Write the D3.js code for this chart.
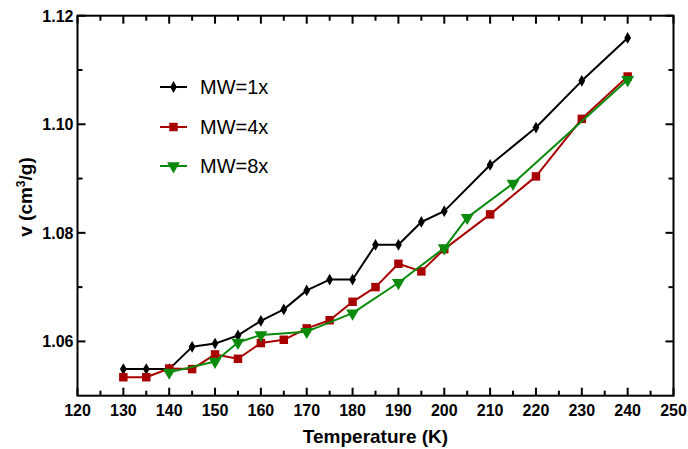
<!DOCTYPE html>
<html>
<head>
<meta charset="utf-8">
<script src="https://cdn.jsdelivr.net/npm/d3@7"></script>
<style>
  html, body { margin: 0; padding: 0; background: #fff; }
  svg { display: block; font-family: "Liberation Sans", Arial, sans-serif; }
</style>
</head>
<body>
<svg id="chart" width="688" height="449"></svg>
<script>
// Specific volume vs temperature for three MW multiples
const temps1 = [130, 135, 140, 145, 150, 155, 160, 165, 170, 175, 180, 185, 190, 195, 200, 210, 220, 230, 240];
const vol1   = [1.0549, 1.0549, 1.0549, 1.0590, 1.0596, 1.0611, 1.0638, 1.0659, 1.0694, 1.0714, 1.0714, 1.0778, 1.0778, 1.0820, 1.0840, 1.0925, 1.0994, 1.1080, 1.1159];

const temps4 = [130, 135, 140, 145, 150, 155, 160, 165, 170, 175, 180, 185, 190, 195, 200, 210, 220, 230, 240];
const vol4   = [1.0534, 1.0534, 1.0550, 1.0549, 1.0576, 1.0568, 1.0597, 1.0603, 1.0624, 1.0639, 1.0673, 1.0700, 1.0743, 1.0729, 1.0770, 1.0834, 1.0904, 1.1010, 1.1088];

const temps8 = [140, 150, 155, 160, 170, 180, 190, 200, 205, 215, 240];
const vol8   = [1.0543, 1.0563, 1.0598, 1.0612, 1.0618, 1.0652, 1.0708, 1.0772, 1.0828, 1.0891, 1.1082];

const seriesNames = ["MW=1x", "MW=4x", "MW=8x"];
const xTicks = [120, 130, 140, 150, 160, 170, 180, 190, 200, 210, 220, 230, 240, 250];
const yTicks = [1.06, 1.08, 1.10, 1.12];
const xMinor = [125, 135, 145, 155, 165, 175, 185, 195, 205, 215, 225, 235, 245];
const yMinor = [1.07, 1.09, 1.11];

const svg = d3.select("#chart");
const plotL = 77.5, plotR = 673.5, plotT = 15.7, plotB = 395.7;

const x = d3.scaleLinear().domain([120, 250]).range([plotL, plotR]);
const y = d3.scaleLinear().domain([1.05, 1.12]).range([plotB, plotT]);

const majorLen = 8, minorLen = 5, tickW = 2;
const tickG = svg.append("g").attr("fill", "#000");

// vertical tick marks on bottom and top edges (pointing inward)
function vTicks(vals, len) {
  vals.forEach(v => {
    tickG.append("rect").attr("x", x(v) - tickW / 2).attr("y", plotB - len).attr("width", tickW).attr("height", len);
    tickG.append("rect").attr("x", x(v) - tickW / 2).attr("y", plotT).attr("width", tickW).attr("height", len);
  });
}
// horizontal tick marks on left and right edges (pointing inward)
function hTicks(vals, len) {
  vals.forEach(v => {
    tickG.append("rect").attr("x", plotL).attr("y", y(v) - tickW / 2).attr("width", len).attr("height", tickW);
    tickG.append("rect").attr("x", plotR - len).attr("y", y(v) - tickW / 2).attr("width", len).attr("height", tickW);
  });
}
vTicks(xTicks, majorLen);
vTicks(xMinor, minorLen);
hTicks(yTicks, majorLen);
hTicks(yMinor, minorLen);

// plot frame
svg.append("rect")
  .attr("x", plotL).attr("y", plotT)
  .attr("width", plotR - plotL).attr("height", plotB - plotT)
  .attr("fill", "none").attr("stroke", "#000").attr("stroke-width", 2);

// tick labels
svg.append("g").selectAll("text").data(xTicks).join("text")
  .attr("x", d => x(d)).attr("y", plotB + 20)
  .attr("text-anchor", "middle")
  .attr("font-size", 16).attr("font-weight", "bold")
  .text(d3.format("d"));
svg.append("g").selectAll("text").data(yTicks).join("text")
  .attr("x", plotL - 4).attr("y", d => y(d) + 6)
  .attr("text-anchor", "end")
  .attr("font-size", 16).attr("font-weight", "bold")
  .text(d3.format(".2f"));

// axis titles
svg.append("text")
  .attr("x", (plotL + plotR) / 2)
  .attr("y", 443)
  .attr("text-anchor", "middle")
  .attr("font-size", 19).attr("font-weight", "bold")
  .text("Temperature (K)");

const yTitle = svg.append("text")
  .attr("transform", `translate(32,197) rotate(-90)`)
  .attr("text-anchor", "middle")
  .attr("font-size", 19).attr("font-weight", "bold");
yTitle.append("tspan").text("v (cm");
yTitle.append("tspan").attr("font-size", 12).attr("dy", -7).text("3");
yTitle.append("tspan").attr("dy", 7).text("/g)");

// series
const colors = ["#000000", "#a80000", "#0a8a0a"];
const series = [
  { name: seriesNames[0], t: temps1, v: vol1, color: colors[0], shape: d3.symbolDiamond, size: 40, width: 2 },
  { name: seriesNames[1], t: temps4, v: vol4, color: colors[1], shape: d3.symbolSquare, size: 72, width: 2 },
  { name: seriesNames[2], t: temps8, v: vol8, color: colors[2], shape: d3.symbolTriangle, size: 72, width: 2, flip: true }
];

const line = d3.line().x(d => x(d[0])).y(d => y(d[1]));

series.forEach(s => {
  const pts = s.t.map((t, i) => [t, s.v[i]]);
  const g = svg.append("g");
  g.append("path").datum(pts)
    .attr("d", line).attr("fill", "none")
    .attr("stroke", s.color).attr("stroke-width", s.width).attr("stroke-linejoin", "round");
  g.selectAll("path.m").data(pts).join("path")
    .attr("class", "m")
    .attr("d", d3.symbol().type(s.shape).size(s.size))
    .attr("transform", d => `translate(${x(d[0])},${y(d[1])})${s.flip ? " rotate(180)" : ""}`)
    .attr("fill", s.color);
});

// legend
const legY = [87, 127, 166];
series.forEach((s, i) => {
  const g = svg.append("g").attr("transform", `translate(0,${legY[i]})`);
  g.append("line").attr("x1", 160).attr("x2", 187).attr("y1", 0).attr("y2", 0)
    .attr("stroke", s.color).attr("stroke-width", s.width);
  g.append("path")
    .attr("d", d3.symbol().type(s.shape).size(s.size))
    .attr("transform", `translate(173.5,0)${s.flip ? " rotate(180)" : ""}`)
    .attr("fill", s.color);
  g.append("text").attr("x", 200).attr("y", 7)
    .attr("font-size", 20).attr("fill", "#000")
    .text(s.name);
});
</script>
</body>
</html>
